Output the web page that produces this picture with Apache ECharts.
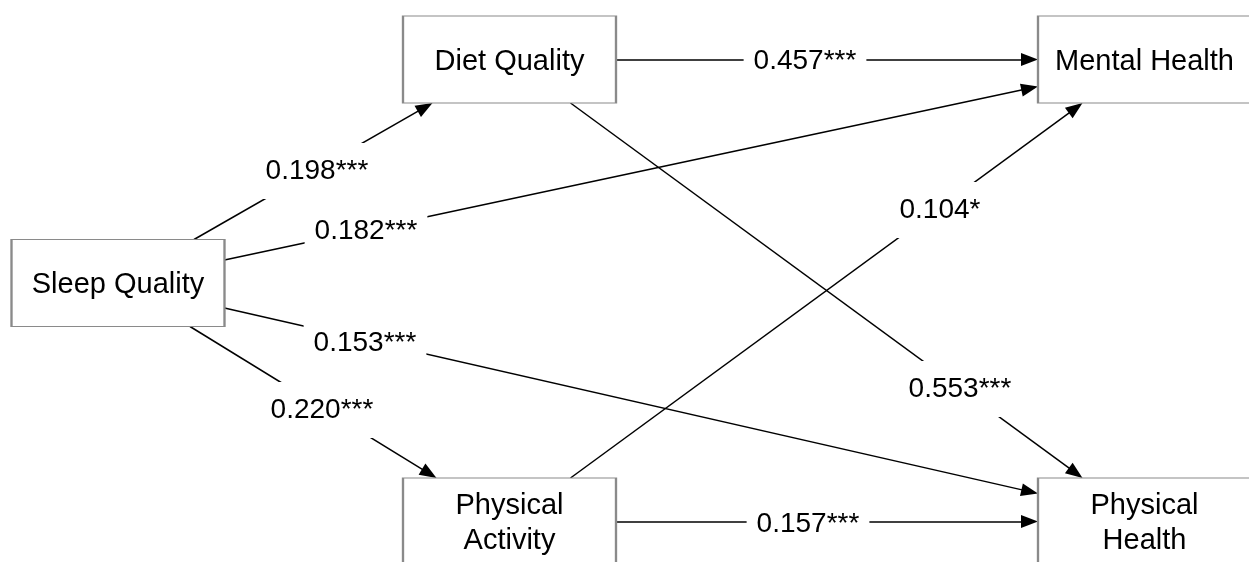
<!DOCTYPE html>
<html>
<head>
<meta charset="utf-8">
<title>Sleep Quality path model</title>
<script src="https://cdn.jsdelivr.net/npm/echarts@6/dist/echarts.min.js"></script>
<style>
  html, body { margin: 0; padding: 0; background: #fff; }
  #chart { width: 1249px; height: 562px; }
</style>
</head>
<body>
<div id="chart"></div>
<script>
// Variables in the model
const nodeNames = ['Sleep Quality', 'Diet Quality', 'Mental Health', 'Physical\nActivity', 'Physical\nHealth'];

// Standardised path coefficients (source -> target) with significance stars
const pathFrom  = ['Sleep Quality', 'Sleep Quality', 'Diet Quality', 'Diet Quality', 'Physical\nActivity', 'Sleep Quality', 'Sleep Quality', 'Physical\nActivity'];
const pathTo    = ['Diet Quality', 'Mental Health', 'Mental Health', 'Physical\nHealth', 'Mental Health', 'Physical\nActivity', 'Physical\nHealth', 'Physical\nHealth'];
const pathCoefs = [0.198, 0.182, 0.457, 0.553, 0.104, 0.220, 0.153, 0.157];
const pathStars = ['***', '***', '***', '***', '*', '***', '***', '***'];

// ---- diagram layout (pixel space of the drawing area) ----
const BOX_W = 213, BOX_H = 87;
const nodeCenter = {
  'Sleep Quality':      [118, 283],
  'Diet Quality':       [509.5, 59.5],
  'Mental Health':      [1144.5, 59.5],
  'Physical\nActivity': [509.5, 521.5],
  'Physical\nHealth':   [1144.5, 521.5]
};
// where each path leaves / enters a box: [side, offset along that side from the centre]
const pathAnchors = [
  [['top', 76],    ['bottom', -77]],
  [['right', -23], ['left', 27]],
  [['right', 0],   ['left', 0]],
  [['bottom', 61], ['top', -62]],
  [['top', 61],    ['bottom', -62]],
  [['bottom', 72], ['top', -73]],
  [['right', 25],  ['left', -28]],
  [['right', 0],   ['left', 0]]
];
// where each coefficient label sits
const labelPos = [[317, 169], [366, 229], [805, 59], [960, 387], [940, 208], [322, 408], [365, 341], [808, 522]];

const ARROW_W = 13, ARROW_L = 17;

function anchorPoint(name, anchor) {
  const c = nodeCenter[name];
  const side = anchor[0], off = anchor[1];
  if (side === 'top')    return [c[0] + off, c[1] - BOX_H / 2];
  if (side === 'bottom') return [c[0] + off, c[1] + BOX_H / 2];
  if (side === 'left')   return [c[0] - BOX_W / 2, c[1] + off];
  return [c[0] + BOX_W / 2, c[1] + off];
}

// the arrow head is centred on the line end, so pull the end back by half its length
const pathLines = pathFrom.map(function (from, i) {
  const p0 = anchorPoint(from, pathAnchors[i][0]);
  const p1 = anchorPoint(pathTo[i], pathAnchors[i][1]);
  const dx = p1[0] - p0[0], dy = p1[1] - p0[1];
  const len = Math.sqrt(dx * dx + dy * dy);
  const k = (len - ARROW_L / 2) / len;
  return { coords: [p0, [p0[0] + dx * k, p0[1] + dy * k]] };
});

const pathLabels = pathCoefs.map(function (v, i) {
  return { name: v.toFixed(3) + pathStars[i], value: labelPos[i] };
});

const nodes = nodeNames.map(function (n) {
  return { name: n, value: nodeCenter[n] };
});

const FONT = '"Liberation Sans", Arial, Helvetica, sans-serif';

const chart = echarts.init(document.getElementById('chart'), null, { renderer: 'canvas' });
chart.setOption({
  animation: false,
  backgroundColor: '#fff',
  grid: { left: 0, top: 0, width: 1249, height: 562 },
  xAxis: { type: 'value', min: 0, max: 1249, show: false },
  yAxis: { type: 'value', min: 0, max: 562, inverse: true, show: false },
  series: [
    {
      type: 'lines',
      coordinateSystem: 'cartesian2d',
      z: 2,
      silent: true,
      symbol: ['none', 'triangle'],
      symbolSize: [[ARROW_W, ARROW_L], [ARROW_W, ARROW_L]],
      lineStyle: { color: '#000', width: 1.5, opacity: 1, curveness: 0 },
      itemStyle: { color: '#000' },
      data: pathLines
    },
    {
      type: 'scatter',
      z: 3,
      silent: true,
      clip: false,
      symbolSize: 0,
      itemStyle: { opacity: 1 },
      data: pathLabels,
      label: {
        show: true,
        position: 'inside',
        offset: [0, 2],
        formatter: '{b}',
        color: '#000',
        opacity: 1,
        fontFamily: FONT,
        fontSize: 28,
        lineHeight: 28,
        backgroundColor: '#fff',
        padding: [14, 10]
      }
    },
    {
      type: 'scatter',
      z: 4,
      silent: true,
      clip: false,
      symbol: 'rect',
      symbolSize: [BOX_W, BOX_H],
      itemStyle: { color: '#fff', borderColor: '#8a8a8a', borderWidth: 1.5, opacity: 1 },
      data: nodes,
      label: {
        show: true,
        position: 'inside',
        offset: [0, 2],
        formatter: '{b}',
        color: '#000',
        opacity: 1,
        fontFamily: FONT,
        fontSize: 29,
        lineHeight: 35
      }
    }
  ]
});
</script>
</body>
</html>
